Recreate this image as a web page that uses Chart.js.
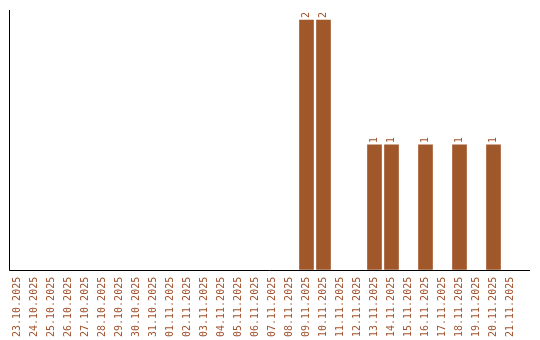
<!DOCTYPE html>
<html>
<head>
<meta charset="utf-8">
<script src="https://cdn.jsdelivr.net/npm/chart.js@4/dist/chart.umd.min.js"></script>
<style>
html,body{margin:0;padding:0;background:#fff;}
#wrap{width:540px;height:340px;position:relative;}
</style>
</head>
<body>
<div id="wrap"><canvas id="c" width="540" height="340"></canvas></div>
<script>
const categories = ["23.10.2025","24.10.2025","25.10.2025","26.10.2025","27.10.2025","28.10.2025","29.10.2025","30.10.2025","31.10.2025","01.11.2025","02.11.2025","03.11.2025","04.11.2025","05.11.2025","06.11.2025","07.11.2025","08.11.2025","09.11.2025","10.11.2025","11.11.2025","12.11.2025","13.11.2025","14.11.2025","15.11.2025","16.11.2025","17.11.2025","18.11.2025","19.11.2025","20.11.2025","21.11.2025"];
const counts = [0,0,0,0,0,0,0,0,0,0,0,0,0,0,0,0,0,2,2,0,0,1,1,0,1,0,1,0,1,0];

const BROWN = '#a0572a';
const TEXT = '#a0522d';

const axesPlugin = {
  id: 'axesAndLabels',
  afterDatasetsDraw(chart) {
    const {ctx, chartArea} = chart;
    ctx.save();
    ctx.strokeStyle = '#000';
    ctx.lineWidth = 1;
    ctx.beginPath();
    ctx.moveTo(Math.round(chartArea.left) + 0.5, chartArea.top);
    ctx.lineTo(Math.round(chartArea.left) + 0.5, Math.round(chartArea.bottom) + 0.5);
    ctx.lineTo(chartArea.right + 11, Math.round(chartArea.bottom) + 0.5);
    ctx.stroke();
    const meta = chart.getDatasetMeta(0);
    ctx.fillStyle = TEXT;
    ctx.font = '10px "DejaVu Sans Mono", monospace';
    meta.data.forEach((bar, i) => {
      const v = counts[i];
      if (!v) return;
      ctx.save();
      ctx.translate(bar.x, bar.y - 2);
      ctx.rotate(-Math.PI / 2);
      ctx.textAlign = 'left';
      ctx.textBaseline = 'middle';
      ctx.fillText(String(v), 0, 0);
      ctx.restore();
    });
    ctx.restore();
  }
};

new Chart(document.getElementById('c'), {
  type: 'bar',
  data: {
    labels: categories,
    datasets: [{
      data: counts.map(v => (v === 0 ? null : v)),
      backgroundColor: BROWN,
      borderWidth: 0,
      barThickness: 14
    }]
  },
  options: {
    responsive: false,
    animation: false,
    layout: { padding: { left: 9, top: 10, right: 21, bottom: -4 } },
    plugins: { legend: { display: false }, tooltip: { enabled: false } },
    scales: {
      x: {
        grid: { display: false, drawTicks: false },
        border: { display: false },
        ticks: {
          color: TEXT,
          font: { family: '"DejaVu Sans Mono", monospace', size: 10 },
          minRotation: 90,
          maxRotation: 90,
          autoSkip: false,
          padding: 7
        }
      },
      y: {
        display: false,
        min: 0,
        max: 2.08
      }
    }
  },
  plugins: [axesPlugin]
});
</script>
</body>
</html>
